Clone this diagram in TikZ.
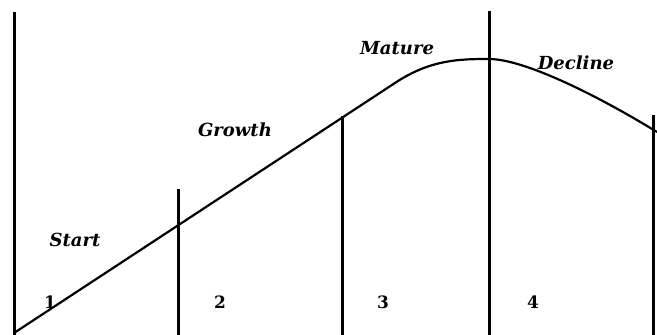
\documentclass[tikz,border=0pt]{standalone}
\usepackage{fontspec}
\setmainfont{DejaVu Serif}
\begin{document}
\begin{tikzpicture}[x=1pt,y=-1pt,
  divider/.style={line width=3pt},
  curveline/.style={line width=2.2pt, line join=round},
  phase/.style={font=\fontsize{18}{18}\selectfont\bfseries\itshape, inner sep=0pt},
  num/.style={font=\fontsize{17}{17}\selectfont\bfseries, inner sep=0pt}]
\useasboundingbox (0,0) rectangle (657,335);
% divider lines
\coordinate (d0t) at (14,12);   \coordinate (d0b) at (14,335);
\coordinate (d1t) at (178,189); \coordinate (d1b) at (178,335);
\coordinate (d2t) at (342,116); \coordinate (d2b) at (342,335);
\coordinate (d3t) at (489,11);  \coordinate (d3b) at (489,335);
\coordinate (d4t) at (653,115); \coordinate (d4b) at (653,335);
\draw[divider] (d0t) -- (d0b);
\draw[divider] (d1t) -- (d1b);
\draw[divider] (d2t) -- (d2b);
\draw[divider] (d3t) -- (d3b);
\draw[divider] (d4t) -- (d4b);
% life cycle curve
\coordinate (c0) at (14,333);
\coordinate (c1) at (398,81);
\coordinate (peak) at (489,59);
\coordinate (c2) at (657,132);
\draw[curveline] (c0) -- (c1) .. controls (432,59.5) and (460,59) .. (peak)
  .. controls (525,59) and (600,97) .. (c2);
% labels
\node[phase] (start) at (75,240) {Start};
\node[phase] (growth) at (235,130) {Growth};
\node[phase] (mature) at (397,48) {Mature};
\node[phase] (decline) at (576,63) {Decline};
\node[num] (n1) at (50,302) {1};
\node[num] (n2) at (220,302) {2};
\node[num] (n3) at (383,302) {3};
\node[num] (n4) at (533,302) {4};
\end{tikzpicture}
\end{document}
